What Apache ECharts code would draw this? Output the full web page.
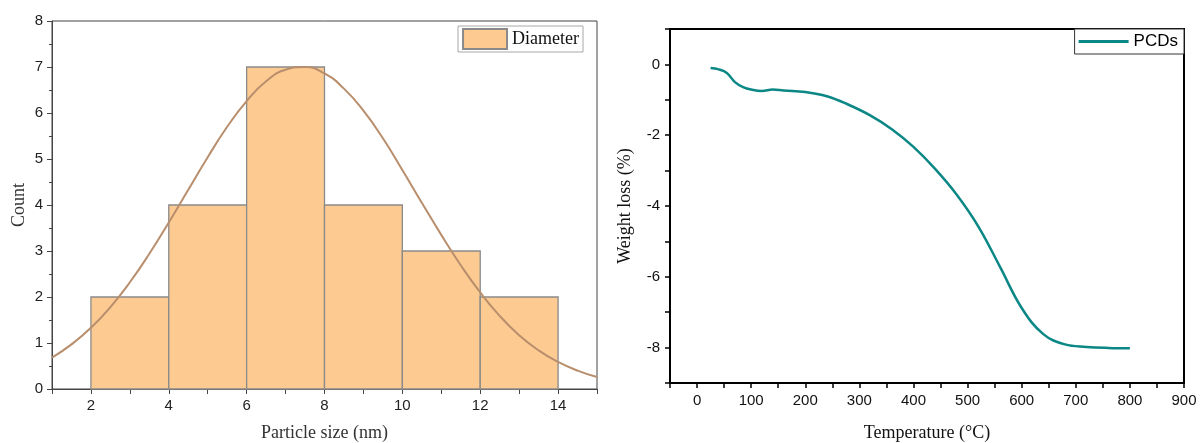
<!DOCTYPE html>
<html>
<head>
<meta charset="utf-8">
<script src="https://cdn.jsdelivr.net/npm/echarts@6/dist/echarts.min.js"></script>
<style>
html, body { margin: 0; padding: 0; background: #fff; }
#chart { width: 1200px; height: 443px; }
</style>
</head>
<body>
<div id="chart"></div>
<script>
// histogram bins: [start, end, count]
var binStarts = [2, 4, 6, 8, 10, 12];
var binEnds = [4, 6, 8, 10, 12, 14];
var binCounts = [2, 4, 7, 4, 3, 2];

// fitted normal curve
var fitX = [1, 1.5, 2, 2.5, 3, 3.5, 4, 4.5, 5, 5.5, 6, 6.5, 7, 7.5, 8, 8.5, 9, 9.5, 10, 10.5, 11, 11.5, 12, 12.5, 13, 13.5, 14, 14.5, 15];
var fitY = [0.68, 0.97, 1.33, 1.78, 2.32, 2.94, 3.62, 4.33, 5.04, 5.70, 6.26, 6.69, 6.94, 7.00, 6.86, 6.53, 6.05, 5.45, 4.76, 4.05, 3.35, 2.69, 2.10, 1.59, 1.17, 0.84, 0.59, 0.40, 0.26];

// TGA curve
var tempC = [25, 40, 55, 70, 85, 100, 120, 140, 160, 200, 240, 280, 320, 360, 400, 440, 480, 520, 560, 600, 640, 680, 720, 760, 800];
var weightLoss = [-0.10, -0.14, -0.24, -0.50, -0.64, -0.71, -0.75, -0.71, -0.74, -0.78, -0.90, -1.14, -1.44, -1.83, -2.33, -2.95, -3.68, -4.58, -5.72, -6.88, -7.62, -7.91, -7.98, -8.01, -8.02];

var bins = binStarts.map(function (s, i) { return [s, binEnds[i], binCounts[i]]; });
var fit = fitX.map(function (x, i) { return [x, fitY[i]]; });
var tga = tempC.map(function (t, i) { return [t, weightLoss[i]]; });

var serif = '"Liberation Serif", "Times New Roman", serif';
var sans = '"Liberation Sans", Arial, sans-serif';

var chart = echarts.init(document.getElementById('chart'));
chart.setOption({
  animation: false,
  legend: [
    {
      data: [{ name: 'Diameter', icon: 'rect' }],
      right: 617, top: 26,
      orient: 'vertical',
      backgroundColor: '#fff',
      borderColor: '#a8a8a8', borderWidth: 1,
      padding: [2, 4, 2, 4],
      itemWidth: 44, itemHeight: 20,
      textStyle: { fontFamily: serif, fontSize: 18, color: '#111' }
    },
    {
      data: [{ name: 'PCDs', icon: 'rect' }],
      right: 16, top: 29,
      orient: 'vertical',
      backgroundColor: '#fff',
      borderColor: '#333', borderWidth: 1,
      padding: [4, 6, 4, 4],
      itemWidth: 50, itemHeight: 3,
      textStyle: { fontFamily: sans, fontSize: 17, color: '#000' }
    }
  ],
  grid: [
    { left: 52, top: 21, right: 603, bottom: 54, containLabel: false, outerBoundsMode: 'none', show: true, borderColor: '#444', borderWidth: 1, backgroundColor: 'transparent' },
    { left: 670, top: 29, right: 16, bottom: 60, containLabel: false, outerBoundsMode: 'none', show: true, borderColor: '#000', borderWidth: 2, backgroundColor: 'transparent' }
  ],
  xAxis: [
    {
      gridIndex: 0, type: 'value', min: 1, max: 15, interval: 1,
      name: 'Particle size (nm)', nameLocation: 'middle', nameGap: 35,
      nameTextStyle: { fontFamily: serif, fontSize: 18, color: '#333' },
      axisLine: { onZero: false, lineStyle: { color: '#444', width: 1 } },
      axisTick: { inside: false, length: 5, lineStyle: { color: '#444' } },
      axisLabel: {
        margin: 9, fontFamily: sans, fontSize: 15, color: '#222',
        formatter: function (v) { return v % 2 === 0 ? String(v) : ''; }
      },
      splitLine: { show: false }
    },
    {
      gridIndex: 1, type: 'value', min: -50, max: 900, interval: 50,
      name: 'Temperature (°C)', nameLocation: 'middle', nameGap: 41,
      nameTextStyle: { fontFamily: serif, fontSize: 18, color: '#111' },
      axisLine: { onZero: false, lineStyle: { color: '#000', width: 2 } },
      axisTick: { inside: false, length: 5, lineStyle: { color: '#000', width: 1.5 } },
      axisLabel: {
        margin: 10, fontFamily: sans, fontSize: 15, color: '#111',
        formatter: function (v) { return v % 100 === 0 ? String(v) : ''; }
      },
      splitLine: { show: false }
    }
  ],
  yAxis: [
    {
      gridIndex: 0, type: 'value', min: 0, max: 8, interval: 1,
      name: 'Count', nameLocation: 'middle', nameGap: 24,
      nameTextStyle: { fontFamily: serif, fontSize: 18, color: '#333' },
      axisLine: { show: true, onZero: false, lineStyle: { color: '#444', width: 1 } },
      axisTick: { show: true, inside: false, length: 5, lineStyle: { color: '#444' } },
      minorTick: { show: true, splitNumber: 2, length: 3, lineStyle: { color: '#444' } },
      axisLabel: { margin: 9, fontFamily: sans, fontSize: 15, color: '#222' },
      splitLine: { show: false }
    },
    {
      gridIndex: 1, type: 'value', min: -9, max: 1, interval: 1,
      name: 'Weight loss (%)', nameLocation: 'middle', nameGap: 36,
      nameTextStyle: { fontFamily: serif, fontSize: 18, color: '#111' },
      axisLine: { show: true, onZero: false, lineStyle: { color: '#000', width: 2 } },
      axisTick: { show: true, inside: false, length: 5, lineStyle: { color: '#000', width: 1.5 } },
      axisLabel: {
        margin: 10, fontFamily: sans, fontSize: 15, color: '#111',
        formatter: function (v) { return v % 2 === 0 ? String(v) : ''; }
      },
      splitLine: { show: false }
    }
  ],
  series: [
    {
      name: 'Diameter',
      type: 'custom',
      xAxisIndex: 0, yAxisIndex: 0,
      data: bins,
      encode: { x: [0, 1], y: 2 },
      itemStyle: { color: '#fdcb92', borderColor: '#8a8a8a', borderWidth: 1 },
      renderItem: function (params, api) {
        var p0 = api.coord([api.value(0), 0]);
        var p1 = api.coord([api.value(1), api.value(2)]);
        return {
          type: 'rect',
          shape: { x: p0[0], y: p1[1], width: p1[0] - p0[0], height: p0[1] - p1[1] },
          style: { fill: '#fdcb92', stroke: '#8a8a8a', lineWidth: 1.3 }
        };
      }
    },
    {
      name: 'Fit',
      type: 'line',
      xAxisIndex: 0, yAxisIndex: 0,
      data: fit,
      smooth: true,
      symbol: 'none',
      z: 5,
      lineStyle: { color: '#b88e6c', width: 2 }
    },
    {
      name: 'PCDs',
      type: 'line',
      xAxisIndex: 1, yAxisIndex: 1,
      data: tga,
      smooth: 0.4,
      symbol: 'none',
      itemStyle: { color: '#0b8785' },
      lineStyle: { color: '#0b8785', width: 2.5 }
    }
  ]
});
</script>
</body>
</html>
